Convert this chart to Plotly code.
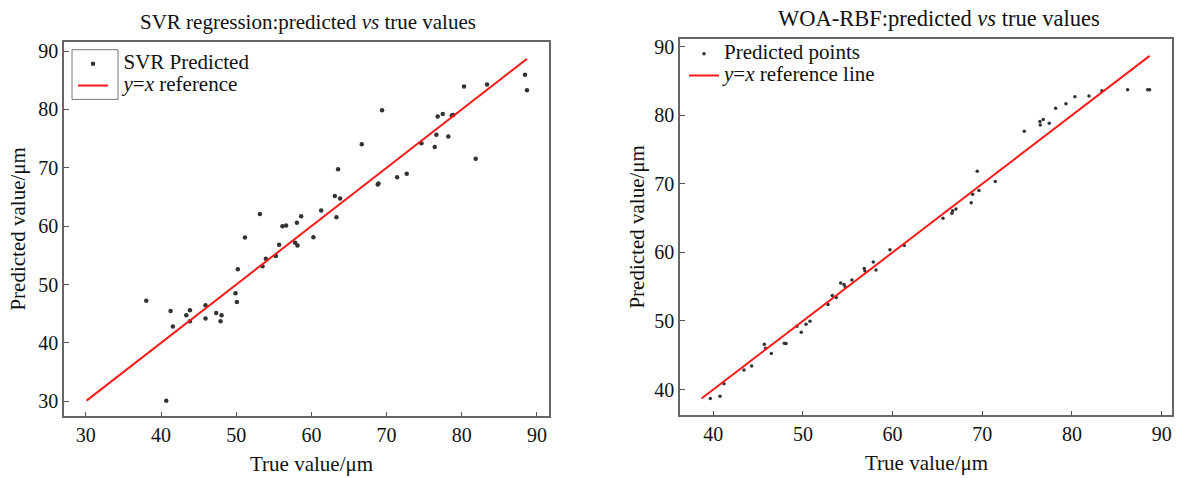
import plotly.graph_objects as go

W, H = 1177, 478

# ---------------- data ----------------
svr_true = [38.04, 40.70, 41.27, 41.58, 43.36, 43.85, 43.85, 45.92, 45.92, 47.34,
            48.05, 47.92, 49.91, 50.09, 50.22, 51.16, 53.15, 53.50, 53.94, 55.27,
            55.71, 56.15, 56.64, 57.84, 58.15, 58.07, 58.64, 60.27, 61.30, 63.33,
            63.12, 63.55, 63.82, 66.70, 68.83, 68.92, 69.40, 71.40, 72.68, 74.63,
            76.40, 76.62, 76.80, 77.47, 78.21, 78.66, 78.88, 80.30, 81.85, 83.36,
            88.41, 88.67]
svr_pred = [47.23, 30.10, 45.47, 42.79, 44.73, 45.59, 43.71, 46.44, 44.16, 45.13,
            44.73, 43.71, 48.49, 47.01, 52.60, 58.07, 62.10, 53.11, 54.41, 54.87,
            56.80, 60.00, 60.12, 57.15, 56.70, 60.57, 61.71, 58.12, 62.68, 61.54,
            65.18, 69.74, 64.73, 74.02, 67.13, 67.30, 79.88, 68.38, 69.00, 74.19,
            73.56, 75.67, 78.80, 79.20, 75.38, 78.97, 79.03, 83.93, 71.57, 84.27,
            85.93, 83.30]

rbf_true = [39.68, 40.76, 41.20, 43.43, 44.29, 45.70, 45.85, 46.48, 47.93, 48.12,
            49.34, 49.82, 50.35, 50.79, 52.80, 53.28, 53.72, 54.21, 54.58, 54.73,
            55.47, 56.84, 56.92, 57.85, 58.15, 59.71, 61.30, 65.62, 66.62, 66.70,
            67.07, 68.77, 68.93, 69.44, 69.63, 71.45, 74.68, 76.43, 76.47, 76.80,
            77.47, 78.18, 79.33, 80.33, 81.90, 83.34, 86.21, 88.44, 88.66]
rbf_pred = [38.70, 39.03, 40.83, 42.85, 43.43, 46.62, 46.04, 45.26, 46.77, 46.71,
            49.23, 48.36, 49.52, 49.95, 52.42, 53.72, 53.43, 55.55, 55.32, 54.97,
            55.99, 57.64, 57.29, 58.60, 57.44, 60.39, 61.01, 64.97, 65.70, 66.09,
            66.33, 67.25, 68.49, 71.84, 69.03, 70.33, 77.68, 79.08, 78.59, 79.37,
            78.84, 81.01, 81.69, 82.71, 82.80, 83.58, 83.72, 83.72, 83.72]

left_ticks = [30, 40, 50, 60, 70, 80, 90]
right_ticks = [40, 50, 60, 70, 80, 90]

FONT = "Liberation Serif, Times New Roman, serif"


def big(txt, size=21, pad=""):
    # legend rows in the reference are tighter than plotly's default spacing,
    # so the legend font is small and the text is enlarged inline
    return f'<span style="font-size:{size}px">{pad}{txt}</span>'


PAD = "&nbsp;&nbsp;"

fig = go.Figure()

# SVR panel
fig.add_trace(go.Scatter(x=svr_true, y=svr_pred, mode="markers",
                         name=big("SVR Predicted", pad=PAD),
                         marker=dict(size=4.5, color="#333333"),
                         xaxis="x", yaxis="y", legend="legend"))
lo1 = min(min(svr_true), min(svr_pred))
hi1 = max(max(svr_true), max(svr_pred))
fig.add_trace(go.Scatter(x=[lo1, hi1], y=[lo1, hi1], mode="lines",
                         name=big("<i>y</i>=<i>x</i> reference", pad=PAD),
                         line=dict(color="#ff1a1a", width=2),
                         xaxis="x", yaxis="y", legend="legend"))

# WOA-RBF panel
fig.add_trace(go.Scatter(x=rbf_true, y=rbf_pred, mode="markers", name=big("Predicted points"),
                         marker=dict(size=3.5, color="#333333"),
                         xaxis="x2", yaxis="y2", legend="legend2"))
lo2 = min(min(rbf_true), min(rbf_pred))
hi2 = max(max(rbf_true), max(rbf_pred))
fig.add_trace(go.Scatter(x=[lo2, hi2], y=[lo2, hi2], mode="lines",
                         name=big("<i>y</i>=<i>x</i> reference line"),
                         line=dict(color="#ff1a1a", width=2),
                         xaxis="x2", yaxis="y2", legend="legend2"))

axis_common = dict(showgrid=False, zeroline=False, showline=True, mirror=True,
                   linecolor="#666666", linewidth=1.5, ticks="inside", ticklen=5,
                   tickwidth=1.2, tickcolor="#555555",
                   tickfont=dict(family=FONT, size=20, color="#111111"))

fig.update_layout(
    width=W, height=H,
    margin=dict(l=0, r=0, t=0, b=0),
    paper_bgcolor="white", plot_bgcolor="white",
    font=dict(family=FONT, color="#111111"),
    xaxis=dict(domain=[64 / W, 549 / W], range=[27.1, 91.6], tickvals=left_ticks,
               anchor="y", **axis_common),
    yaxis=dict(domain=[1 - 416 / H, 1 - 39 / H], range=[27.4, 91.6], tickvals=left_ticks,
               anchor="x", **axis_common),
    xaxis2=dict(domain=[680 / W, 1171.5 / W], range=[36.3, 91.1], tickvals=right_ticks,
                anchor="y2", **axis_common),
    yaxis2=dict(domain=[1 - 415 / H, 1 - 36 / H], range=[36.23, 91.16], tickvals=right_ticks,
                anchor="x2", **axis_common),
    legend=dict(x=73 / W, y=1 - 45 / H, xanchor="left", yanchor="top",
                bgcolor="rgba(0,0,0,0)", borderwidth=0,
                font=dict(family=FONT, size=14.5, color="#111111")),
    legend2=dict(x=684 / W, y=1 - 35 / H, xanchor="left", yanchor="top",
                 bgcolor="rgba(0,0,0,0)", borderwidth=0,
                 font=dict(family=FONT, size=14.5, color="#111111")),
    showlegend=True,
)

ann = [
    dict(text="SVR regression:predicted <i>vs</i> true values", x=308 / W, y=1 - 19 / H,
         font=dict(size=21)),
    dict(text="WOA-RBF:predicted <i>vs</i> true values", x=939 / W, y=1 - 16 / H,
         font=dict(size=22.5)),
    dict(text="True value/μm", x=311 / W, y=1 - 464 / H, font=dict(size=21)),
    dict(text="True value/μm", x=926 / W, y=1 - 463 / H, font=dict(size=21)),
    dict(text="Predicted value/μm", x=18 / W, y=1 - 228 / H, textangle=-90,
         font=dict(size=21)),
    dict(text="Predicted value/μm", x=637 / W, y=1 - 226 / H, textangle=-90,
         font=dict(size=21)),
]
for a in ann:
    a.update(xref="paper", yref="paper", showarrow=False, xanchor="center",
             yanchor="middle")
    a["font"] = dict(family=FONT, color="#111111", **a["font"])
fig.update_layout(annotations=ann)

# partial legend frame seen in the reference
fig.add_shape(type="rect", xref="paper", yref="paper",
              x0=72 / W, x1=118 / W, y0=1 - 97 / H, y1=1 - 47 / H,
              line=dict(color="#777777", width=1), fillcolor="rgba(0,0,0,0)", layer="below")

fig.write_html("out.html")
